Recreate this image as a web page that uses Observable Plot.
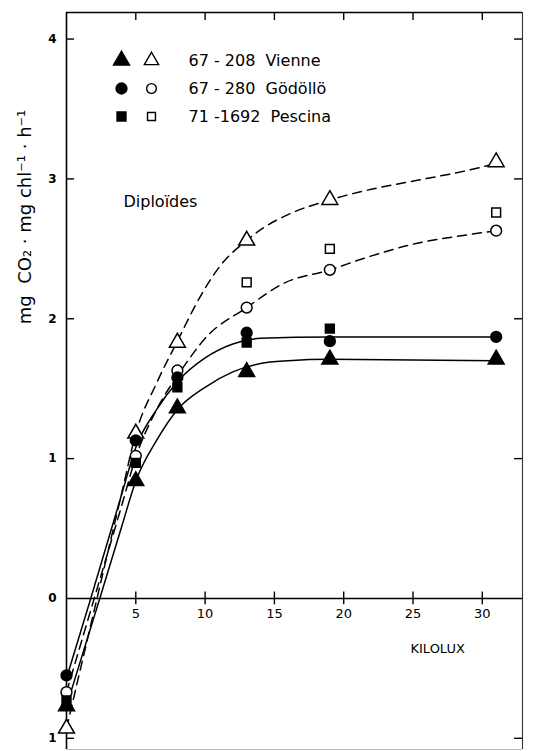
<!DOCTYPE html>
<html>
<head>
<meta charset="utf-8">
<script src="https://cdn.jsdelivr.net/npm/d3@7"></script>
<script src="https://cdn.jsdelivr.net/npm/@observablehq/plot@0.6"></script>
<style>
  html, body { margin: 0; padding: 0; background: #fff; }
  svg { display: block; }
</style>
</head>
<body>
<div id="chart"></div>
<script>
// ---- data ----
const kilolux = [0, 5, 8, 13, 19, 31];
const viennePlein  = [-0.77, 0.84, 1.36, 1.62, 1.71, 1.71];
const vienneVide   = [-0.93, 1.18, 1.83, 2.56, 2.85, 3.12];
const godolloPlein = [-0.55, 1.13, 1.58, 1.90, 1.84, 1.87];
const godolloVide  = [-0.67, 1.02, 1.63, 2.08, 2.35, 2.63];
const pescinaPlein = [-0.73, 0.97, 1.51, 1.83, 1.93, null];
const pescinaVide  = [null, null, null, 2.26, 2.50, 2.76];

// fitted curves (hand-drawn in the original)
const solideHautX = [0, 1.75, 4, 5, 6.5, 8, 10, 12, 14, 19, 31];
const solideHautY = [-0.57, 0, 0.75, 1.08, 1.35, 1.55, 1.72, 1.82, 1.86, 1.87, 1.87];
const solideBasX  = [0, 2.4, 4, 5, 6.5, 8, 10, 12, 14, 16, 19, 31];
const solideBasY  = [-0.77, 0, 0.52, 0.84, 1.13, 1.35, 1.51, 1.62, 1.68, 1.70, 1.71, 1.70];
const tiretHautX  = [0, 2.2, 4, 5, 6.5, 8, 9.6, 11.1, 13, 14.2, 16.1, 19, 21.7, 25.3, 28.9, 31];
const tiretHautY  = [-0.93, 0, 0.76, 1.18, 1.54, 1.84, 2.15, 2.38, 2.56, 2.65, 2.75, 2.85, 2.92, 2.99, 3.06, 3.11];
const tiretBasX   = [0, 2.0, 4, 5, 6.5, 8.2, 10.1, 13, 15.6, 19, 21.7, 25.3, 28.9, 31];
const tiretBasY   = [-0.67, 0, 0.67, 1.01, 1.35, 1.62, 1.87, 2.08, 2.25, 2.35, 2.44, 2.54, 2.60, 2.63];

const xTicks = [5, 10, 15, 20, 25, 30];
const yTicks = [-1, 0, 1, 2, 3, 4];
const yTickLabels = ["1", "0", "1", "2", "3", "4"];
const legendLabels = ["67 - 208  Vienne", "67 - 280  Gödöllö", "71 -1692  Pescina"];
const legendSymbols = ["triangle", "circle", "square"];

// ---- layout ----
const W = 533, H = 751;
const mL = 66, mR = 11, mT = 12, mB = 2;
const xDom = [0, 32.9], yDom = [-1.08, 4.19];
const px2x = p => xDom[0] + (p - mL) / (W - mL - mR) * (xDom[1] - xDom[0]);
const py2y = p => yDom[1] - (p - mT) / (H - mT - mB) * (yDom[1] - yDom[0]);
const dxU = 8 / (W - mL - mR) * (xDom[1] - xDom[0]);   // 8px in x units
const dyU = 8 / (H - mT - mB) * (yDom[1] - yDom[0]);   // 8px in y units

const pts = (ys) => kilolux.map((x, i) => ({x, y: ys[i]})).filter(d => d.y != null);
const crv = (xs, ys) => xs.map((x, i) => ({x, y: ys[i]}));

const font = "DejaVu Sans, sans-serif";
const R = {triangle: 5.9, circle: 5.4, square: 5.0};

const legendRows = legendLabels.map((label, i) => ({label, symbol: legendSymbols[i], y: py2y(60 + i * 28)}));

const plot = Plot.plot({
  width: W, height: H,
  marginLeft: mL, marginRight: mR, marginTop: mT, marginBottom: mB,
  x: {domain: xDom, axis: null},
  y: {domain: yDom, axis: null},
  r: {type: "identity"},
  style: {fontFamily: font, background: "#fff", color: "#000"},
  marks: [
    // frame
    Plot.ruleY([yDom[0]], {stroke: "#bbb", strokeWidth: 1.2}),
    Plot.ruleX([xDom[0]], {stroke: "#000", strokeWidth: 1.6}),
    Plot.ruleX([xDom[1]], {stroke: "#333", strokeWidth: 1.1}),
    Plot.ruleY([yDom[1]], {stroke: "#000", strokeWidth: 1.6}),
    Plot.ruleY([0], {stroke: "#000", strokeWidth: 1.4}),
    // ticks
    Plot.ruleY(yTicks.filter(v => v !== 0), {y: d => d, x1: xDom[0], x2: xDom[0] + dxU, stroke: "#000", strokeWidth: 1.4}),
    Plot.ruleY(yTicks.filter(v => v !== 0), {y: d => d, x1: xDom[1] - dxU, x2: xDom[1], stroke: "#000", strokeWidth: 1.4}),
    Plot.ruleX(xTicks, {x: d => d, y1: yDom[1], y2: yDom[1] - dyU, stroke: "#000", strokeWidth: 1.4}),
    Plot.ruleX(xTicks, {x: d => d, y1: -0.8 * dyU, y2: 0.8 * dyU, stroke: "#000", strokeWidth: 1.4}),
    // tick labels
    Plot.text(xTicks, {x: d => d, y: 0, dy: 15, text: d => String(d), fontSize: 13, fill: "#000"}),
    Plot.text(yTicks, {x: 0, y: d => d, dx: -14, text: (d, i) => yTickLabels[i], fontSize: 12, fontWeight: "bold", fill: "#000"}),
    // axis titles
    Plot.text(["mg  CO₂ · mg chl⁻¹ · h⁻¹"], {frameAnchor: "left", textAnchor: "middle", dx: -41, dy: -164, rotate: -90, fontSize: 18, letterSpacing: 2, fill: "#000"}),
    Plot.text(["KILOLUX"], {x: px2x(410), y: py2y(648), textAnchor: "start", fontSize: 13, letterSpacing: 0.5, fill: "#000"}),
    Plot.text(["Diploïdes"], {x: px2x(123), y: py2y(201), textAnchor: "start", fontSize: 16, letterSpacing: 1, fill: "#000"}),
    // curves
    Plot.line(crv(solideHautX, solideHautY), {x: "x", y: "y", curve: "monotone-x", stroke: "#000", strokeWidth: 1.5}),
    Plot.line(crv(solideBasX, solideBasY), {x: "x", y: "y", curve: "monotone-x", stroke: "#000", strokeWidth: 1.5}),
    Plot.line(crv(tiretHautX, tiretHautY), {x: "x", y: "y", curve: "monotone-x", stroke: "#000", strokeWidth: 1.5, strokeDasharray: "9,6"}),
    Plot.line(crv(tiretBasX, tiretBasY), {x: "x", y: "y", curve: "monotone-x", stroke: "#000", strokeWidth: 1.5, strokeDasharray: "9,6"}),
    // open markers
    Plot.dot(pts(vienneVide), {x: "x", y: "y", symbol: "triangle", r: R.triangle, fill: "#fff", stroke: "#000", strokeWidth: 1.5}),
    Plot.dot(pts(godolloVide), {x: "x", y: "y", symbol: "circle", r: R.circle, fill: "#fff", stroke: "#000", strokeWidth: 1.5}),
    Plot.dot(pts(pescinaVide), {x: "x", y: "y", symbol: "square", r: R.square, fill: "#fff", stroke: "#000", strokeWidth: 1.5}),
    // filled markers
    Plot.dot(pts(pescinaPlein), {x: "x", y: "y", symbol: "square", r: R.square, fill: "#000", stroke: "#000"}),
    Plot.dot(pts(godolloPlein), {x: "x", y: "y", symbol: "circle", r: R.circle, fill: "#000", stroke: "#000"}),
    Plot.dot(pts(viennePlein), {x: "x", y: "y", symbol: "triangle", r: R.triangle, fill: "#000", stroke: "#000"}),
    // legend
    Plot.dot(legendRows, {x: px2x(121), y: "y", symbol: "symbol", r: d => R[d.symbol], fill: "#000", stroke: "#000"}),
    Plot.dot(legendRows, {x: px2x(151), y: "y", symbol: "symbol", r: d => R[d.symbol] * 0.9, fill: "#fff", stroke: "#000", strokeWidth: 1.4}),
    Plot.text(legendRows, {x: px2x(188), y: "y", text: "label", textAnchor: "start", fontSize: 16, fill: "#000", letterSpacing: 1.2})
  ]
});
plot.querySelectorAll("text").forEach(t => t.style.whiteSpace = "pre");
document.getElementById("chart").appendChild(plot);
</script>
</body>
</html>
